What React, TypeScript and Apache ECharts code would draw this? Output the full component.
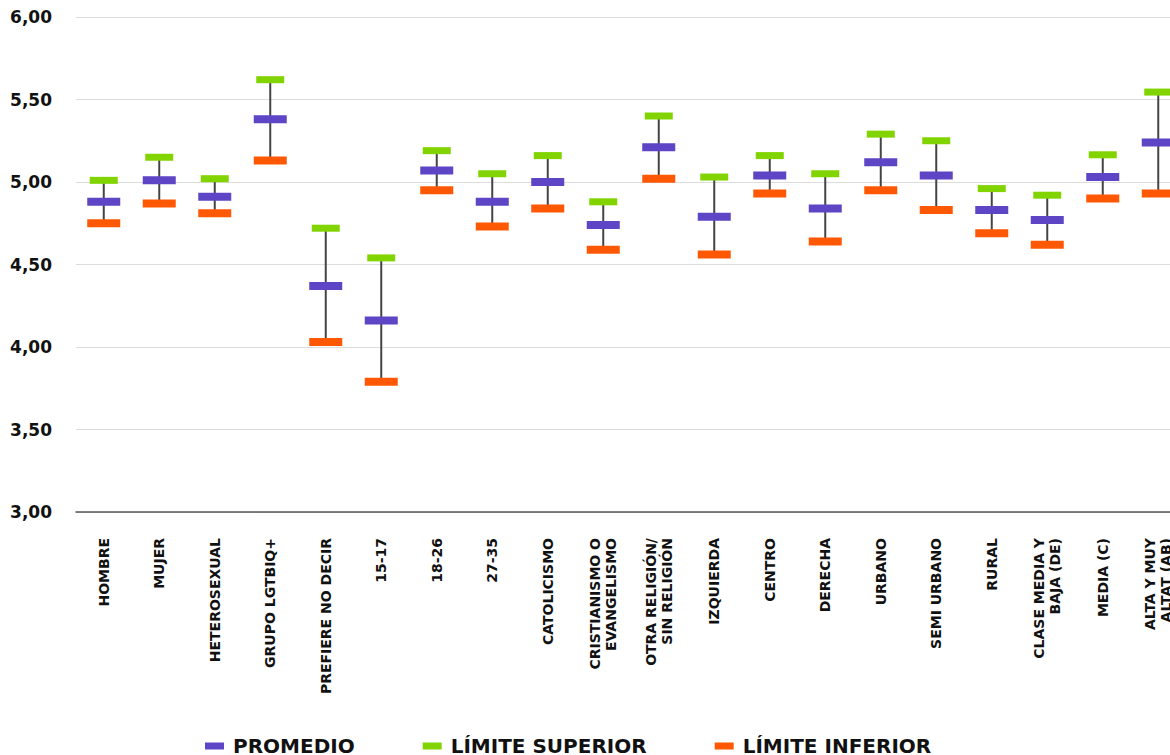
import React, { useEffect, useRef } from "react";
import * as echarts from "echarts";

const categories = [
  "HOMBRE", "MUJER", "HETEROSEXUAL", "GRUPO LGTBIQ+", "PREFIERE NO DECIR",
  "15-17", "18-26", "27-35", "CATOLICISMO", "CRISTIANISMO O\nEVANGELISMO",
  "OTRA RELIGIÓN/\nSIN RELIGIÓN", "IZQUIERDA", "CENTRO", "DERECHA", "URBANO",
  "SEMI URBANO", "RURAL", "CLASE MEDIA Y\nBAJA (DE)", "MEDIA (C)", "ALTA Y MUY\nALTAT (AB)",
];
const promedio = [4.88, 5.01, 4.91, 5.38, 4.37, 4.16, 5.07, 4.88, 5.0, 4.74, 5.21, 4.79, 5.04, 4.84, 5.12, 5.04, 4.83, 4.77, 5.03, 5.24];
const limiteSuperior = [5.01, 5.15, 5.02, 5.62, 4.72, 4.54, 5.19, 5.05, 5.16, 4.88, 5.4, 5.03, 5.16, 5.05, 5.29, 5.25, 4.96, 4.92, 5.165, 5.545];
const limiteInferior = [4.75, 4.87, 4.81, 5.13, 4.03, 3.79, 4.95, 4.73, 4.84, 4.59, 5.02, 4.56, 4.93, 4.64, 4.95, 4.83, 4.69, 4.62, 4.9, 4.93];
const yTicks = { min: 3, max: 6, interval: 0.5 };

const PURPLE = "#5d45c6";
const GREEN = "#82d400";
const ORANGE = "#ff5805";
const FONT = "DejaVu Sans";

export default function App() {
  const ref = useRef<HTMLDivElement>(null);
  useEffect(() => {
    if (!ref.current) return;
    const chart = echarts.init(ref.current, null, { renderer: "svg" });
    const whiskers = categories.map((_, i) => [i, limiteInferior[i], limiteSuperior[i]]);
    chart.setOption({
      animation: false,
      grid: { left: 76, top: 17, right: 14, bottom: 278, containLabel: false },
      legend: {
        left: 200,
        top: 731,
        icon: "rect",
        itemWidth: 19,
        itemHeight: 7,
        itemGap: 68,
        data: ["PROMEDIO", "LÍMITE SUPERIOR", "LÍMITE INFERIOR"],
        textStyle: { fontFamily: FONT, fontWeight: "bold", fontSize: 20, color: "#111", padding: [0, 0, 0, 4] },
      },
      xAxis: {
        type: "category",
        data: categories,
        axisTick: { show: false },
        axisLine: { lineStyle: { color: "#555", width: 1.5 } },
        axisLabel: {
          rotate: 90,
          interval: 0,
          margin: 26,
          fontFamily: FONT,
          fontWeight: "bold",
          fontSize: 14,
          lineHeight: 16,
          color: "#111",
        },
      },
      yAxis: {
        type: "value",
        min: yTicks.min,
        max: yTicks.max,
        interval: yTicks.interval,
        axisLine: { show: false },
        axisTick: { show: false },
        splitLine: { lineStyle: { color: "#dcdcdc", width: 1.2 } },
        axisLabel: {
          margin: 24,
          fontFamily: FONT,
          fontWeight: "bold",
          fontSize: 17,
          color: "#111",
          formatter: (v: number) => v.toFixed(2).replace(".", ","),
        },
      },
      series: [
        {
          type: "custom",
          name: "whisker",
          z: 1,
          silent: true,
          data: whiskers,
          encode: { x: 0, y: [1, 2] },
          renderItem: (params: any, api: any) => {
            const x = api.value(0);
            const lo = api.coord([x, api.value(1)]);
            const hi = api.coord([x, api.value(2)]);
            return {
              type: "line",
              shape: { x1: lo[0], y1: lo[1], x2: hi[0], y2: hi[1] },
              style: { stroke: "#444", lineWidth: 2 },
            };
          },
        },
        {
          type: "scatter",
          name: "PROMEDIO",
          z: 3,
          symbol: "rect",
          symbolSize: [33, 8],
          itemStyle: { color: PURPLE, opacity: 1 },
          data: promedio,
        },
        {
          type: "scatter",
          name: "LÍMITE SUPERIOR",
          z: 3,
          symbol: "rect",
          symbolSize: [28, 7],
          itemStyle: { color: GREEN, opacity: 1 },
          data: limiteSuperior,
        },
        {
          type: "scatter",
          name: "LÍMITE INFERIOR",
          z: 3,
          symbol: "rect",
          symbolSize: [33, 8],
          itemStyle: { color: ORANGE, opacity: 1 },
          data: limiteInferior,
        },
      ],
    });
    return () => chart.dispose();
  }, []);
  return (
    <div style={{ position: "fixed", left: 0, top: 0, width: 1170, height: 755, overflow: "hidden", background: "#fff" }}>
      <div ref={ref} style={{ width: 1200, height: 790 }} />
    </div>
  );
}
